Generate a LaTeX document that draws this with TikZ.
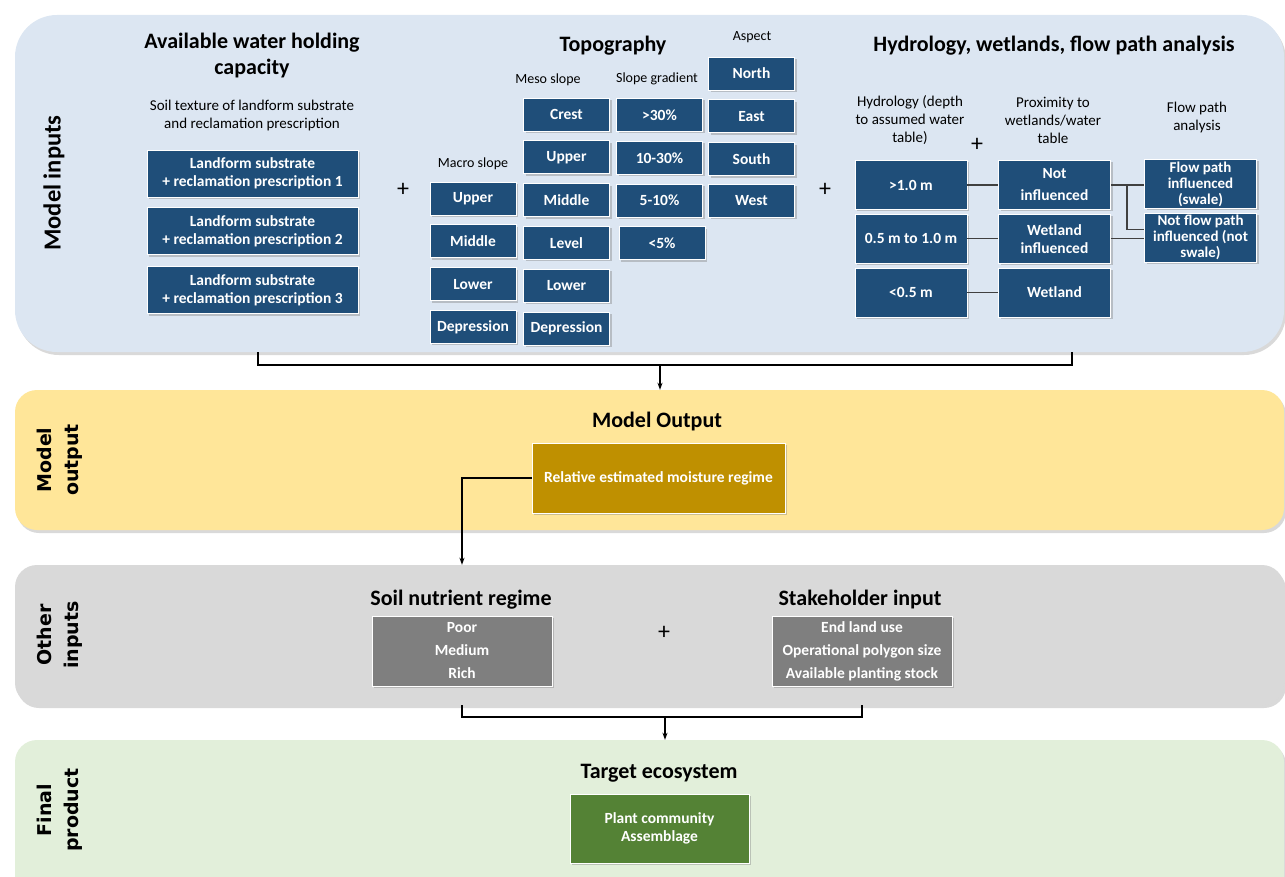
\documentclass[tikz,border=0pt]{standalone}
\usepackage{fontspec}
\setmainfont{Carlito}
\newfontfamily\sidefamily{DejaVu Sans}
\usetikzlibrary{positioning,shadows,arrows.meta}

\definecolor{bandblue}{HTML}{DCE6F2}
\definecolor{bandgold}{HTML}{FFE699}
\definecolor{bandgray}{HTML}{D9D9D9}
\definecolor{bandgreen}{HTML}{E2EFDA}
\definecolor{boxblue}{HTML}{1F4E79}
\definecolor{boxgold}{HTML}{BF9000}
\definecolor{boxgray}{HTML}{7F7F7F}
\definecolor{boxgreen}{HTML}{548235}

\newcommand{\ttlfont}{\fontsize{22}{26}\selectfont\bfseries}
\newcommand{\lblfont}{\fontsize{15}{18}\selectfont}
\newcommand{\smlfont}{\fontsize{14}{16}\selectfont}
\newcommand{\bxfont}{\fontsize{15.5}{18}\selectfont\bfseries}
\newcommand{\sdfont}{\sidefamily\fontsize{19}{27}\selectfont\bfseries}
\newcommand{\plusfont}{\fontsize{24}{24}\selectfont}

\begin{document}
\begin{tikzpicture}%
  [x=1pt,y=-1pt,
   band/.style=
    {rounded corners=22pt,minimum width=1269pt,
     drop shadow={opacity=0.3,shadow xshift=2pt,shadow yshift=-3pt}},
   box/.style=
    {draw=white,line width=0.8pt,text=white,font=\bxfont,align=center,inner sep=1pt,
     drop shadow={opacity=0.4,shadow xshift=2pt,shadow yshift=-2pt}},
   cell/.style={box,fill=boxblue,minimum width=86pt,minimum height=33pt},
   hydro/.style={box,fill=boxblue,minimum width=112pt,minimum height=49pt},
   heading/.style={font=\ttlfont,align=center},
   caption/.style={font=\lblfont,align=center},
   sub/.style={font=\smlfont,align=center},
   side/.style={rotate=90,align=center},
   plus/.style={font=\plusfont},
   link/.style={draw=black!75,line width=1.2pt},
   bracket/.style={line width=1.6pt},
   flow/.style={line width=1.3pt,-{Stealth[length=7pt,width=5pt]}}
  ]
  \useasboundingbox (0,0) rectangle (1285,877);
  \clip (0,0) rectangle (1285,877);

  % bands
  \node[band,fill=bandblue,rounded corners=42pt,minimum height=337pt] (inband) at (649.5,183.5) {};
  \node[band,fill=bandgold,minimum height=140pt] (outband) at (649.5,460) {};
  \node[band,fill=bandgray,minimum height=140pt] (othband) at (649.5,635) {};
  \node[band,fill=bandgreen,minimum height=160pt] (finband) at (649.5,820) {};

  \node[side,font=\fontsize{24.5}{28}\selectfont\bfseries] (sidein) at (54,183) {Model inputs};
  \node[side,font=\sdfont] (sideout) at (60,460) {Model\\output};
  \node[side,font=\sdfont] (sideoth) at (60,635) {Other\\inputs};
  \node[side,font=\sdfont] (sidefin) at (60,810) {Final\\product};

  % available water holding capacity
  \node[heading] (awhc) at (252,56) {Available water holding\\capacity};
  \node[caption] (awsub) at (252,116) {Soil texture of landform substrate\\and reclamation prescription};
  \node[box,fill=boxblue,minimum width=211pt,minimum height=47pt] (lf1) at (252.5,173.5)
    {Landform substrate\\+ reclamation prescription 1};
  \node[box,fill=boxblue,minimum width=211pt,minimum height=47pt,below=10pt of lf1] (lf2)
    {Landform substrate\\+ reclamation prescription 2};
  \node[box,fill=boxblue,minimum width=211pt,minimum height=47pt,below=11pt of lf2] (lf3)
    {Landform substrate\\+ reclamation prescription 3};
  \node[plus] (plus1) at (403,190) {+};

  % topography
  \node[heading] (topo) at (613,46) {Topography};
  \node[sub] (macro) at (473,164) {Macro slope};
  \node[sub] (meso) at (548,80) {Meso slope};
  \node[sub] (grad) at (657,79) {Slope gradient};
  \node[sub] (aspect) at (752,37) {Aspect};

  \node[cell] (ma1) at (473,198.5) {Upper};
  \node[cell,below=9pt of ma1] (ma2) {Middle};
  \node[cell,below=9pt of ma2] (ma3) {Lower};
  \node[cell,below=9pt of ma3] (ma4) {Depression};

  \node[cell] (me1) at (566.5,114.5) {Crest};
  \node[cell,below=9pt of me1] (me2) {Upper};
  \node[cell,below=9pt of me2] (me3) {Middle};
  \node[cell,below=9pt of me3] (me4) {Level};
  \node[cell,below=9pt of me4] (me5) {Lower};
  \node[cell,below=9pt of me5] (me6) {Depression};

  \node[cell] (gr1) at (659.5,115) {>30\%};
  \node[cell,below=9pt of gr1] (gr2) {10-30\%};
  \node[cell,below=9pt of gr2] (gr3) {5-10\%};
  \node[cell,below=9pt of gr3,xshift=2.5pt] (gr4) {<5\%};

  \node[cell] (as1) at (751.5,73.5) {North};
  \node[cell,below=9pt of as1] (as2) {East};
  \node[cell,below=9pt of as2] (as3) {South};
  \node[cell,below=8pt of as3] (as4) {West};
  \node[plus] (plus2) at (825,190) {+};

  % hydrology, wetlands, flow path analysis
  \node[heading] (hydro) at (1054,46) {Hydrology, wetlands, flow path analysis};
  \node[caption] (hylbl) at (910,120) {Hydrology (depth\\to assumed water\\table)};
  \node[caption] (prlbl) at (1053,120) {Proximity to\\wetlands/water\\table};
  \node[caption] (fplbl) at (1197,118) {Flow path\\analysis};
  \node[plus] (plus3) at (977,145) {+};

  \node[hydro] (h1) at (911,185) {>1.0 m};
  \node[hydro,below=4pt of h1] (h2) {0.5 m to 1.0 m};
  \node[hydro,below=4pt of h2] (h3) {<0.5 m};
  \node[hydro] (p1) at (1054.5,185) {Not\\[4pt]influenced};
  \node[hydro,below=4pt of p1] (p2) {Wetland\\influenced};
  \node[hydro,below=4pt of p2] (p3) {Wetland};
  \node[hydro,font=\fontsize{15}{16}\selectfont\bfseries] (f1) at (1200.5,184) {Flow path\\influenced\\(swale)};
  \node[hydro,font=\fontsize{15}{16}\selectfont\bfseries,below=4pt of f1] (f2) {Not flow path\\influenced (not\\swale)};

  \draw[link] (h1) -- (p1);
  \draw[link] (h2) -- (p2);
  \draw[link] (h3) -- (p3);
  \draw[link] (p1.east) -- (p1.east-|f1.west);
  \draw[link] (p1.east) ++(16,0) |- ([yshift=8pt]f2.west);
  \draw[link] (p2.east) -- (p2.east-|f2.west);

  \coordinate (inL) at (258,352);
  \coordinate (inR) at (1072,352);
  \coordinate (inM) at (660,365);
  \draw[bracket] (inL) -- (inL|-inM) -- (inR|-inM) -- (inR);
  \draw[flow] (inM) -- (inM|-outband.north);

  % model output
  \node[heading] (mout) at (657,422) {Model Output};
  \node[box,fill=boxgold,minimum width=253pt,minimum height=70pt] (rem) at (658.5,478)
    {Relative estimated moisture regime};

  % other inputs
  \node[heading] (snrt) at (461,600) {Soil nutrient regime};
  \node[heading] (stkt) at (860,600) {Stakeholder input};
  \node[box,fill=boxgray,minimum width=180pt,minimum height=70pt,font=\fontsize{15.5}{23}\selectfont\bfseries]
    (snr) at (462,651) {Poor\\Medium\\Rich};
  \node[box,fill=boxgray,minimum width=180pt,minimum height=70pt,font=\fontsize{15.5}{23}\selectfont\bfseries]
    (stk) at (862,651) {End land use\\Operational polygon size\\Available planting stock};
  \node[plus] (plus4) at (664,633) {+};
  \draw[flow] (rem.west) -| (snr.north|-othband.north);

  \coordinate (othM) at (665,717);
  \draw[bracket] (snr.south|-othband.south) -- (snr.south|-othM) -- (stk.south|-othM) -- (stk.south|-othband.south);
  \draw[flow] (othM) -- (othM|-finband.north);

  % final product
  \node[heading] (tgt) at (659,773) {Target ecosystem};
  \node[box,fill=boxgreen,minimum width=179pt,minimum height=69pt] (plant) at (659.5,828.5)
    {Plant community\\Assemblage};

\end{tikzpicture}
\end{document}
